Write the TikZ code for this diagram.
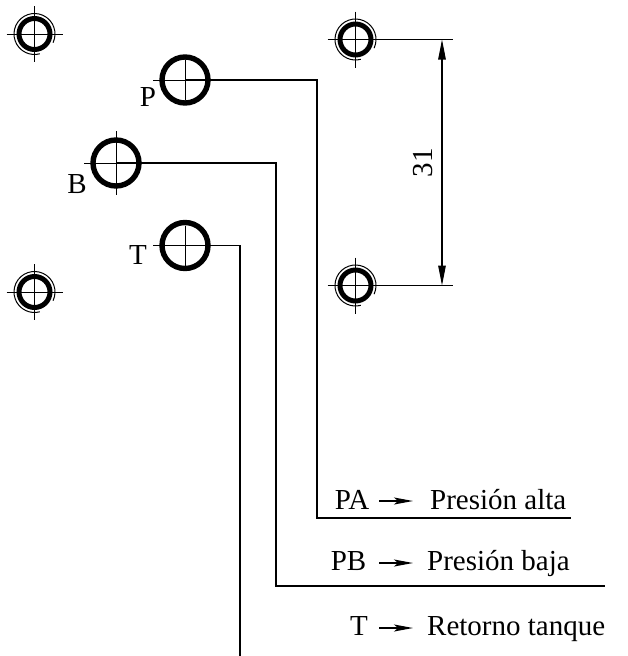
\documentclass[tikz,border=0pt]{standalone}
\usepackage{fontspec}
\setmainfont{Liberation Serif}
\usetikzlibrary{arrows.meta}
\tikzset{
  x=1pt,y=-1pt,
  lbl/.style={font=\fontsize{29}{30}\selectfont,inner sep=0pt,text=black},
  thinl/.style={line width=1.3pt,black},
  minor/.style={line width=1pt,black},
  lineend/.style={line width=1.3pt,-{Stealth[length=19pt,width=7pt,inset=4pt]}},
  dim/.style={line width=1.3pt,{Triangle[length=20pt,width=7.5pt]}-{Triangle[length=20pt,width=7.5pt]}},
  hole/.style={circle,draw=black,line width=#1,inner sep=0pt,fill=none},
}
\newcommand{\smallhole}[2]{%
  \node[hole=5pt,minimum size=31pt] (#1) at #2 {};
  \draw[minor] (#1.center) ++(-28,0) -- ++(56,0);
  \draw[minor] (#1.center) ++(0,-28) -- ++(0,56);
  \draw[line width=1pt] (#1.center) ++(25:20.5) arc[start angle=25,end angle=-285,radius=20.5];
}
\begin{document}
\begin{tikzpicture}
\useasboundingbox (0,0) rectangle (628,656);
\smallhole{h1}{(34.5,34)}
\smallhole{h2}{(34.5,292)}
\smallhole{h3}{(355.5,39.5)}
\smallhole{h4}{(355.5,285.5)}
\node[hole=5.4pt,minimum size=46pt] (P) at (185,80) {};
\node[hole=5.4pt,minimum size=46pt] (B) at (116,163) {};
\node[hole=5.4pt,minimum size=46pt] (T) at (185,245.5) {};
\draw[minor] (P.center) ++(-32,0) -- ++(32,0);
\draw[minor] (P.center) ++(0,-20) -- ++(0,40);
\draw[minor] (B.center) ++(-32,0) -- ++(32,0);
\draw[minor] (B.center) ++(0,-32) -- ++(0,64);
\draw[minor] (T.center) ++(-32,0) -- ++(32,0);
\draw[minor] (T.center) ++(0,-20) -- ++(0,40);
\coordinate (pa) at (317,518);
\coordinate (pb) at (276,586);
\coordinate (pe) at (571,518);
\coordinate (be) at (605,586);
\coordinate (te) at (240,656);
\coordinate (d1) at (453,39.5);
\coordinate (d2) at (453,285.5);
\coordinate (a1) at (442,39.5);
\coordinate (a2) at (442,285.5);
\draw[thinl] (P.center) -| (pa) -- (pe);
\draw[thinl] (B.center) -| (pb) -- (be);
\draw[thinl] (T.center) -| (te);
\draw[thinl] (h3.center) -- (d1);
\draw[thinl] (h4.center) -- (d2);
\draw[dim] (a1) -- (a2);
\node[lbl,rotate=90] (n31) at (423,162.5) {31};
\node[lbl] (lP) at (148,97) {P};
\node[lbl] (lB) at (77,184) {B};
\node[lbl] (lT) at (138,255) {T};
\node[lbl,anchor=base east] (t1) at (369.5,509) {PA};
\node[lbl,anchor=base west] (x1) at (430,509) {Presión alta};
\node[lbl,anchor=base east] (t2) at (366.5,570) {PB};
\node[lbl,anchor=base west] (x2) at (427,570) {Presión baja};
\node[lbl,anchor=base east] (t3) at (368,635.5) {T};
\node[lbl,anchor=base west] (x3) at (427,635.5) {Retorno tanque};
\coordinate (as1) at (379,501);\coordinate (ae1) at (413,501);
\coordinate (as2) at (379,563);\coordinate (ae2) at (413,563);
\coordinate (as3) at (379,628);\coordinate (ae3) at (413,628);
\draw[lineend] (as1) -- (ae1);
\draw[lineend] (as2) -- (ae2);
\draw[lineend] (as3) -- (ae3);
\end{tikzpicture}
\end{document}
